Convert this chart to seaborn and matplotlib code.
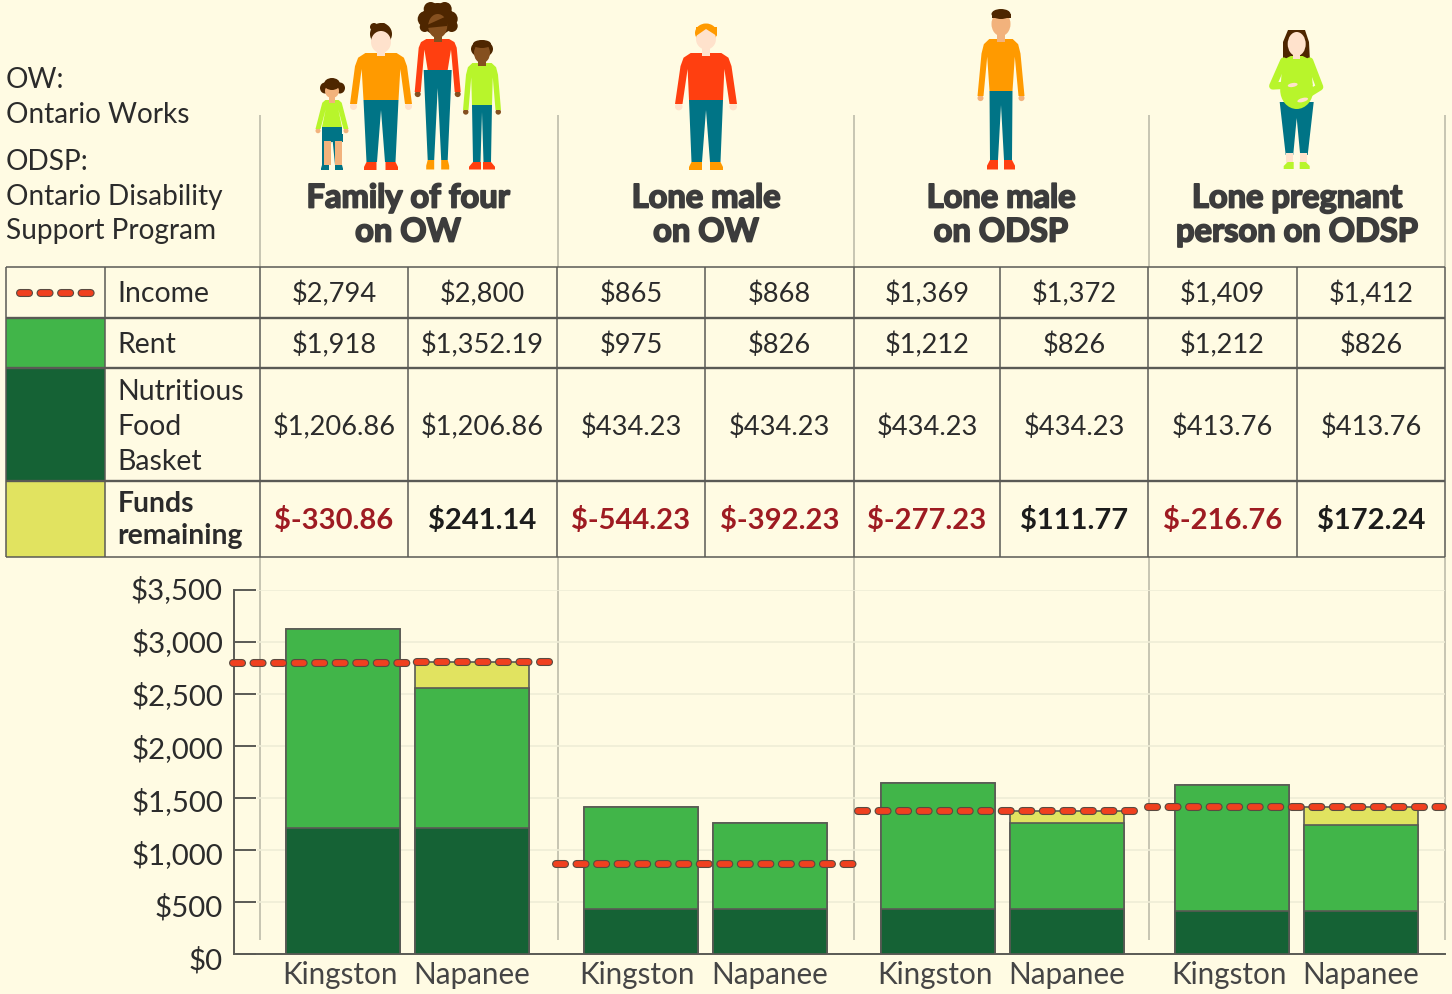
import matplotlib
matplotlib.use('Agg')
import matplotlib.pyplot as plt
import matplotlib.patheffects as pe
from matplotlib.patches import Circle, Ellipse, Rectangle
from matplotlib.transforms import ScaledTranslation
import pandas as pd
import seaborn as sns

# Values from the table
groups = ['Family of four\non OW', 'Lone male\non OW', 'Lone male\non ODSP', 'Lone pregnant\nperson on ODSP']
cities = ['Kingston', 'Napanee'] * 4
income = [2794, 2800, 865, 868, 1369, 1372, 1409, 1412]
rent = [1918, 1352.19, 975, 826, 1212, 826, 1212, 826]
food = [1206.86, 1206.86, 434.23, 434.23, 434.23, 434.23, 413.76, 413.76]
funds = [-330.86, 241.14, -544.23, -392.23, -277.23, 111.77, -216.76, 172.24]
y_ticks = [0, 500, 1000, 1500, 2000, 2500, 3000, 3500]

BG = '#FFFBE3'
RENT = '#41B549'
FOOD = '#156235'
FUNDS = '#E1E360'
INK = '#2B2B2B'
LINE = '#5A5A55'
RED = '#9E1B22'
TEAL = '#007486'
ORANGE = '#FF9A00'
CORAL = '#FF3F10'
LIME = '#B8F52B'
PALE = '#FFE2CC'
TAN = '#F2B27C'
BROWN = '#85501F'
HAIR = '#4E2600'

sns.set_theme(style='white', rc={'figure.facecolor': BG, 'savefig.facecolor': BG})
plt.rcParams['font.family'] = ['Lato', 'DejaVu Sans']

fig = plt.figure(figsize=(14.52, 9.94), dpi=100)
# overlay in pixel coordinates for the table, notes and pictograms
over = fig.add_axes([0, 0, 1, 1], zorder=0)
over.set_xlim(0, 1452)
over.set_ylim(994, 0)
over.axis('off')
over.patch.set_visible(False)

ax = fig.add_axes([233.5 / 1452, 40 / 994, 1211.5 / 1452, 364.4 / 994], zorder=1)
ax.patch.set_visible(False)

# layout, in pixels of the figure
group_x = [407.5, 705, 1002, 1296]
bar_x = [g + d for g in group_x for d in (-64.5, 64.5)]
line_ends = [(233, 555), (556, 855), (858, 1138), (1148, 1443)]
col_x = [6, 105, 260, 408, 557, 705, 854, 1000, 1148, 1297, 1445]
row_y = [267, 318, 368, 481, 557]
sep_x = [260, 557.5, 854, 1148.5, 1445]
header_x = [408, 706, 1001, 1297]
dash_style = dict(color='#F0401F', lw=4.2, dashes=(1.55, 1.97), dash_capstyle='round',
                  path_effects=[pe.Stroke(linewidth=5.8, foreground='#5A4A40'), pe.Normal()], clip_on=False, zorder=6)


def money(v):
    if float(v).is_integer():
        return f'${v:,.0f}'
    return f'${v:,.2f}'


# stacked bars, tallest layer first
base = [r + f for r, f in zip(rent, food)]
top = [b + max(v, 0) for b, v in zip(base, funds)]
bars = pd.DataFrame({'x': bar_x, 'top': top, 'base': base, 'food': food})
for col, colour in [('top', FUNDS), ('base', RENT), ('food', FOOD)]:
    sns.barplot(data=bars, x='x', y=col, native_scale=True, width=114 / 129, color=colour, saturation=1,
                edgecolor=LINE, linewidth=1.2, errorbar=None, ax=ax, zorder=3)

ax.set_xlim(233.5, 1445)
ax.set_ylim(0, 3500)
ax.set_xlabel('')
ax.set_ylabel('')
ax.set_yticks(y_ticks)
ax.set_yticklabels([])
ax.set_xticks(bar_x)
ax.set_xticklabels(cities, fontsize=21.3, color='#454545')
ax.tick_params(axis='x', length=0, pad=5)
ax.tick_params(axis='y', direction='in', length=16, width=1.4, color=LINE, left=True)
# Kingston labels sit a little left of their bars
shift = ScaledTranslation(-3 / 100, 0, fig.dpi_scale_trans)
for lab in ax.get_xticklabels()[::2]:
    lab.set_transform(lab.get_transform() + shift)
ax.hlines(y_ticks[1:], 257, 1445, color='#EFEDD6', lw=1.2, zorder=1)
for side in ['top', 'right']:
    ax.spines[side].set_visible(False)
ax.spines['left'].set_color(LINE)
ax.spines['left'].set_linewidth(1.4)
ax.spines['bottom'].set_color(LINE)
ax.spines['bottom'].set_linewidth(1.4)
ax.spines['bottom'].set_bounds(237, 1445)

# income lines
for i, (x0, x1) in enumerate(line_ends):
    mid = group_x[i]
    ax.plot([x0, mid, mid, x1], [income[2 * i], income[2 * i], income[2 * i + 1], income[2 * i + 1]], **dash_style)

# y labels sit a bit off the ticks in the original
for i, v in enumerate(y_ticks):
    over.text(223, 969.5 - 52.9 * i, f'${v:,}', ha='right', va='baseline', fontsize=21.2, color=INK)

# separators
over.vlines(sep_x, 115, 267, color='#BDBCAA', lw=1.2)
over.vlines(sep_x, 557, 940, color='#BDBCAA', lw=1.2)

# table
over.add_patch(Rectangle((col_x[0], row_y[1]), 99, row_y[2] - row_y[1], color=RENT, lw=0))
over.add_patch(Rectangle((col_x[0], row_y[2]), 99, row_y[3] - row_y[2], color=FOOD, lw=0))
over.add_patch(Rectangle((col_x[0], row_y[3]), 99, row_y[4] - row_y[3], color=FUNDS, lw=0))
over.vlines(col_x, row_y[0], row_y[-1], color=LINE, lw=1.1)
over.hlines(row_y, col_x[0], col_x[-1], color=LINE, lw=[1.1, 1.7, 1.7, 1.7, 1.1])
over.plot([20, 95], [293, 293], **dash_style)

row_labels = [('Income', 302), ('Rent', 353), ('Nutritious', 399.5), ('Food', 435), ('Basket', 469.5)]
for label, y in row_labels:
    over.text(117.5, y, label, va='baseline', fontsize=20.4, color=INK)
over.text(117.5, 512, 'Funds', va='baseline', fontsize=20.4, color=INK, weight='bold')
over.text(117.5, 544, 'remaining', va='baseline', fontsize=20.4, color=INK, weight='bold')

centres = [(a + b) / 2 for a, b in zip(col_x[2:-1], col_x[3:])]
for i, cx in enumerate(centres):
    over.text(cx, 302, money(income[i]), ha='center', va='baseline', fontsize=19.6, color=INK)
    over.text(cx, 353, money(rent[i]), ha='center', va='baseline', fontsize=19.6, color=INK)
    over.text(cx, 435, f'${food[i]:,.2f}', ha='center', va='baseline', fontsize=19.6, color=INK)
    over.text(cx, 528.5, f'${funds[i]:,.2f}', ha='center', va='baseline', fontsize=21, weight='bold',
              color=RED if funds[i] < 0 else '#1C1C1C')

# notes and headers
notes = [('OW:', 88), ('Ontario Works', 123), ('ODSP:', 170), ('Ontario Disability', 204.5), ('Support Program', 239.5)]
for label, y in notes:
    over.text(6, y, label, va='baseline', fontsize=20.2, color=INK)
heavy = [pe.withStroke(linewidth=1.3, foreground='#3C3C3C')]
for cx, name in zip(header_x, groups):
    a, b = name.split('\n')
    over.text(cx, 207.5, a, ha='center', va='baseline', fontsize=23.5, weight='bold', color='#3C3C3C', path_effects=heavy)
    over.text(cx, 241.5, b, ha='center', va='baseline', fontsize=23.5, weight='bold', color='#3C3C3C', path_effects=heavy)


def poly(pts, colour, z=2):
    over.fill(*zip(*pts), color=colour, lw=0, zorder=z)


def person(cx, top, waist, sh, waist_w, hand_x, sleeve, arm_w, hip, crotch, ankle, foot, a_out, a_in, shoe_in, shoe_out,
           shirt, pants, skin, shoe, head_y, head_w, head_h):
    # legs
    poly([(cx - hip, waist), (cx + hip, waist), (cx + a_out, ankle), (cx + a_in, ankle), (cx, crotch),
          (cx - a_in, ankle), (cx - a_out, ankle)], pants)
    # shoes
    for s in (-1, 1):
        poly([(cx + s * shoe_in, foot), (cx + s * shoe_in, ankle), (cx + s * a_out, ankle),
              (cx + s * shoe_out, (ankle + foot) / 2 + 1), (cx + s * shoe_out, foot)], shoe)
        over.add_patch(Circle((cx + s * (hand_x - arm_w / 2), sleeve + arm_w * 0.35), arm_w * 0.5, color=skin, lw=0, zorder=2))
    # shirt with arms
    h = waist - top
    half = [(0, top), (sh * 0.6, top), (sh * 0.88, top + h * 0.1), (sh, top + h * 0.28), (hand_x, sleeve),
            (hand_x - arm_w, sleeve), (sh - arm_w * 0.95, top + h * 0.34), (waist_w, waist)]
    right = [(cx + x, y) for x, y in half]
    left = [(cx - x, y) for x, y in reversed(half)]
    poly(right + left, shirt, 3)
    # neck and head
    over.add_patch(Rectangle((cx - head_w * 0.22, head_y), head_w * 0.44, top + 3 - head_y, color=skin, lw=0, zorder=4))
    over.add_patch(Ellipse((cx, head_y), head_w, head_h, color=skin, lw=0, zorder=5))


def hair(cx, cy, w, h, colour, z=4):
    over.add_patch(Ellipse((cx, cy), w, h, color=colour, lw=0, zorder=z))


# child
hair(325, 88, 10, 11, HAIR)
hair(340, 88, 10, 11, HAIR)
person(332, 100, 127, 11, 10, 16.5, 129, 5, 10, 134, 165, 170, 10, 3, 3, 11, LIME, TEAL, TAN, TEAL, 91, 14, 14)
over.add_patch(Rectangle((322.5, 134), 20, 8, color=TEAL, lw=0, zorder=2))
for x in (323.5, 334.5):
    over.add_patch(Rectangle((x, 141), 7.5, 24, color=TAN, lw=0, zorder=2))
hair(332, 84, 16, 12, HAIR, 6)
# father
hair(381, 34, 22, 22, HAIR)
hair(374, 27, 8, 8, HAIR)
hair(383, 27, 8, 8, HAIR)
person(381, 53, 100, 26, 17.5, 31, 104, 7, 17.5, 110, 162, 170, 14.5, 4, 4.5, 17, ORANGE, TEAL, PALE, CORAL, 42, 20, 22)
# mother
for dx, dy, r in [(0, 0, 16), (-12, 0, 8), (12, 0, 8), (-7, -10, 7), (7, -10, 7), (-13, 8, 5), (14, 7, 6)]:
    hair(437.7 + dx, 19 + dy, 2 * r, 2 * r, HAIR)
person(437.7, 39, 70, 19, 10, 23, 92, 6, 14, 88, 160, 169.5, 10, 3.5, 3.5, 11.5, CORAL, TEAL, BROWN, ORANGE, 26, 19, 24)
poly([(427, 25), (447, 16), (447, 26), (427, 28)], HAIR, 6)
# older child
hair(482, 49, 22, 17, HAIR)
person(482, 63, 105, 16, 10, 19, 110, 5.5, 10, 112, 162, 169.5, 9, 1.5, 1, 13, LIME, TEAL, BROWN, CORAL, 53, 16, 20)
hair(482, 44, 18, 8, HAIR, 6)
# lone male on OW
hair(706, 33, 22, 19, ORANGE)
person(706, 53, 100, 25.5, 17, 31, 104, 7.5, 17, 110, 162, 170, 14.5, 4, 4, 17, CORAL, TEAL, PALE, ORANGE, 39, 20, 21)
poly([(696, 36), (706, 29), (717, 36), (717, 27), (696, 27)], ORANGE, 6)
# lone male on ODSP
person(1001, 39, 91, 19.5, 11.5, 23.5, 96, 6, 11.5, 105, 160, 169.5, 11, 3, 3, 14, ORANGE, TEAL, TAN, CORAL, 24, 19, 24)
over.add_patch(Ellipse((1001, 14), 19, 10, color=HAIR, lw=0, zorder=6))
over.add_patch(Rectangle((992, 14), 19, 4, color=HAIR, lw=0, zorder=6))

# pregnant person
cx = 1296.7
poly([(1283, 62), (1283, 42), (1288, 30), (1305, 30), (1309, 42), (1310, 62)], HAIR)
poly([(cx - 17, 102), (cx + 17, 102), (cx + 11, 155), (cx + 3.5, 155), (cx, 118), (cx - 3.5, 155), (cx - 11, 155)], TEAL)
for s in (-1, 1):
    over.add_patch(Rectangle((cx + s * 7 - 3.5, 153), 7, 10, color=PALE, lw=0, zorder=2))
    poly([(cx + s * 3, 169), (cx + s * 3, 162), (cx + s * 9, 162), (cx + s * 13, 166), (cx + s * 13, 169)], LIME)
over.add_patch(Ellipse((cx, 90), 33, 38, color=LIME, lw=0, zorder=3))
poly([(cx - 14, 60), (cx - 6, 56), (cx + 6, 56), (cx + 14, 60), (cx + 16, 85), (cx - 16, 85)], LIME, 3)
over.plot([cx - 13, cx - 24, cx - 6], [61, 86, 85], color=LIME, lw=5.2, solid_capstyle='round', solid_joinstyle='round', zorder=3)
over.plot([cx + 13, cx + 23, cx + 2], [61, 87, 100], color=LIME, lw=5.2, solid_capstyle='round', solid_joinstyle='round', zorder=3)
over.add_patch(Ellipse((cx - 4, 85), 10, 4, angle=-10, color=PALE, lw=0, zorder=4))
over.add_patch(Ellipse((cx + 6, 100), 11, 4, angle=-15, color=PALE, lw=0, zorder=4))
over.add_patch(Rectangle((cx - 3.5, 48), 7, 11, color=PALE, lw=0, zorder=4))
over.add_patch(Ellipse((cx, 44), 18, 24, color=PALE, lw=0, zorder=5))

fig.savefig('out.png', dpi=100)
